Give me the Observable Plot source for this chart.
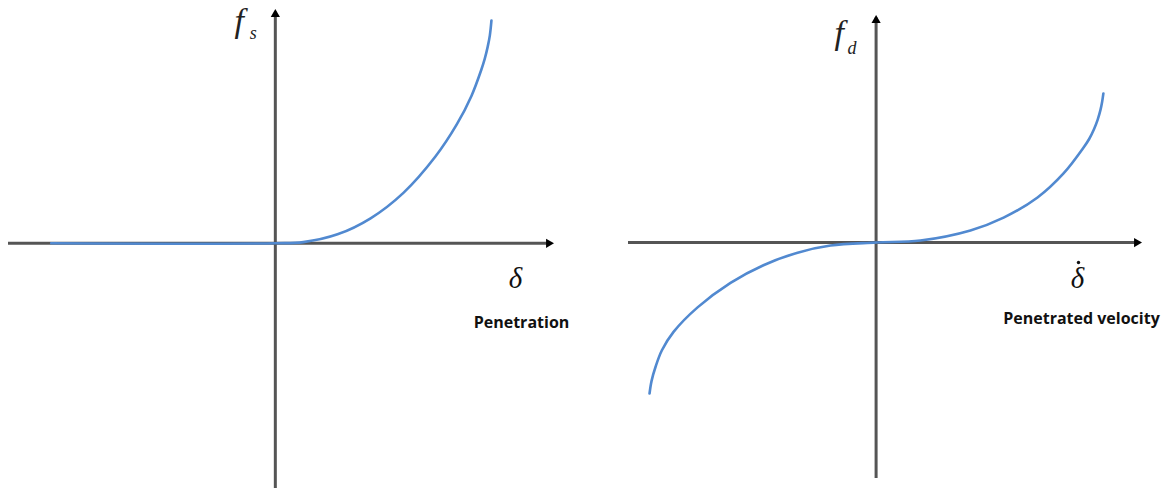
<!DOCTYPE html>
<html>
<head>
<meta charset="utf-8">
<script src="https://cdn.jsdelivr.net/npm/d3@7"></script>
<script src="https://cdn.jsdelivr.net/npm/@observablehq/plot@0.6"></script>
<style>
  html, body { margin: 0; padding: 0; background: #fff; }
  #chart { display: flex; width: 1170px; height: 490px; }
</style>
</head>
<body>
<div id="chart"></div>
<script>
// Contact stiffness: force f_s is zero before contact and stiffens with penetration δ
const penetration  = [-0.84, 0, 0.105, 0.233, 0.357, 0.480, 0.600, 0.680, 0.735, 0.772, 0.785, 0.796, 0.804, 0.810];
const staticForce  = [0, 0, 0.005, 0.038, 0.106, 0.214, 0.368, 0.504, 0.625, 0.736, 0.783, 0.834, 0.882, 0.945];

// Contact damping: force f_d against penetrated velocity δ̇
const velocity     = [-0.915, -0.907, -0.890, -0.865, -0.818, -0.721, -0.588, -0.455, -0.317, -0.184, 0,
                      0.179, 0.381, 0.515, 0.652, 0.757, 0.838, 0.860, 0.880, 0.895, 0.906, 0.913, 0.918];
const dampingForce = [-0.659, -0.605, -0.540, -0.470, -0.390, -0.283, -0.176, -0.099, -0.044, -0.013, 0,
                      0.009, 0.053, 0.109, 0.197, 0.302, 0.415, 0.451, 0.495, 0.537, 0.578, 0.615, 0.651];

// Axis extents (arrow tips) of each panel
const leftXExtent  = [-1, 1.05];
const leftYExtent  = [-1.04, 1];
const rightXExtent = [-1, 1.08];
const rightYExtent = [-1.03, 1];

// Axis and variable labels (the velocity symbol carries a time-derivative dot)
const leftLabels  = { force: "f", sub: "s", variable: "δ", dotted: false, caption: "Penetration" };
const rightLabels = { force: "f", sub: "d", variable: "δ", dotted: true, caption: "Penetrated velocity" };

const AXIS = "#555";
const CURVE = "#5189d0";
const SERIF = "'Liberation Serif', 'DejaVu Serif', serif";
const SANS = "'Open Sans', 'Noto Sans', sans-serif";

function panel({xs, ys, xExtent, yExtent, labels, margins, place}) {
  const curve = xs.map((x, i) => ({x, y: ys[i]}));
  const xEnd = [{x: xExtent[1], y: 0}];
  const yEnd = [{x: 0, y: yExtent[1]}];
  const one = [0];
  return Plot.plot({
    width: 585,
    height: 490,
    ...margins,
    x: {domain: xExtent, axis: null},
    y: {domain: yExtent, axis: null},
    style: {background: "transparent", overflow: "visible"},
    marks: [
      // axes
      Plot.ruleY([0], {x1: () => xExtent[0], x2: () => xExtent[1] - 0.02, stroke: AXIS, strokeWidth: 3}),
      Plot.ruleX([0], {y1: () => yExtent[0], y2: () => yExtent[1] - 0.02, stroke: AXIS, strokeWidth: 3}),
      // arrowheads
      Plot.dot(xEnd, {x: "x", y: "y", symbol: "triangle2", r: 4.4, fill: "#000", stroke: "none", rotate: 90, dx: -6.8}),
      Plot.dot(yEnd, {x: "x", y: "y", symbol: "triangle2", r: 4.4, fill: "#000", stroke: "none", rotate: 0, dy: 6.8}),
      // response curve
      Plot.line(curve, {x: "x", y: "y", stroke: CURVE, strokeWidth: 2.6, curve: "catmull-rom"}),
      // force label f with subscript
      Plot.text(one, {x: () => 0, y: () => yExtent[1], text: () => labels.force, fontFamily: SERIF,
        fontStyle: "italic", fontSize: 34, fill: "#222", lineAnchor: "bottom", dx: place.fdx, dy: place.fdy}),
      Plot.text(one, {x: () => 0, y: () => yExtent[1], text: () => labels.sub, fontFamily: SERIF,
        fontStyle: "italic", fontSize: 18, fill: "#222", lineAnchor: "bottom", dx: place.sdx, dy: place.sdy}),
      // variable symbol and caption
      Plot.text(one, {x: () => xExtent[1], y: () => 0, text: () => labels.variable, fontFamily: SERIF,
        fontStyle: "italic", fontSize: 29, fill: "#111", lineAnchor: "bottom", dx: place.vdx, dy: place.vdy}),
      labels.dotted
        ? Plot.dot(xEnd, {x: "x", y: "y", r: 1.7, fill: "#111", stroke: "none", dx: place.adx, dy: place.ady})
        : null,
      Plot.text(one, {x: () => xExtent[1], y: () => 0, text: () => labels.caption, fontFamily: SANS,
        fontWeight: "bold", fontSize: 16, fill: "#111", lineAnchor: "bottom", dx: place.cdx, dy: place.cdy})
    ]
  });
}

const chart = document.getElementById("chart");
chart.append(panel({
  xs: penetration, ys: staticForce, xExtent: leftXExtent, yExtent: leftYExtent, labels: leftLabels,
  margins: {marginLeft: 8, marginRight: 30, marginTop: 7, marginBottom: 2},
  place: {fdx: -36, fdy: 24, sdx: -22, sdy: 31, vdx: -40, vdy: 45, adx: 0, ady: 0, cdx: -34, cdy: 85}
}));
chart.append(panel({
  xs: velocity, ys: dampingForce, xExtent: rightXExtent, yExtent: rightYExtent, labels: rightLabels,
  margins: {marginLeft: 43, marginRight: 27, marginTop: 13, marginBottom: 12},
  place: {fdx: -37, fdy: 30, sdx: -24, sdy: 40, vdx: -66, vdy: 45, adx: -65, ady: 20, cdx: -62, cdy: 81}
}));
</script>
</body>
</html>
